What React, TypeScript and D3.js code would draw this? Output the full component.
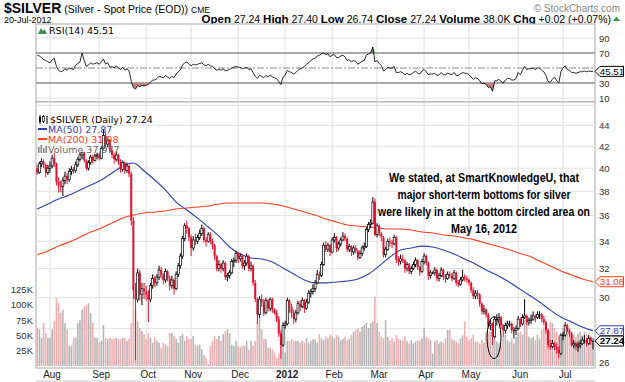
import React from "react";
import * as d3 from "d3";

const firstDay = "2011-07-22";
const lastDay = "2012-07-20";

const open = [
  40.0, 39.6, 40.4, 40.6, 40.3, 39.6,
  40.0, 40.2, 40.9, 40.4, 38.8, 38.5, 38.4, 38.9, 39.3, 39.0,
  39.7, 39.9, 39.8, 40.3, 40.8, 41.2, 41.4, 40.7, 40.0, 40.5,
  41.0, 40.7, 41.1, 41.2, 40.9, 41.8, 43.0, 42.2, 42.6, 41.6,
  41.2, 40.8, 41.2, 40.6, 39.9, 40.5, 39.8, 40.2, 39.5, 35.6,
  30.5, 29.9, 31.7, 30.2, 30.6, 30.4, 30.2, 29.9, 30.8, 31.3,
  31.0, 31.4, 31.9, 31.6, 31.2, 31.8, 31.3, 30.8, 31.2, 30.6,
  31.6, 32.2, 32.9, 34.2, 35.2, 35.0, 34.3, 33.5, 34.1, 34.0,
  34.3, 34.6, 35.0, 34.1, 34.0, 34.5, 34.0, 33.7, 32.9, 32.0,
  32.3, 32.0, 32.4, 31.4, 31.5, 31.7, 32.5, 32.6, 33.1, 32.7,
  32.9, 32.2, 32.4, 32.9, 32.0, 32.2, 31.0, 29.9, 28.9, 29.9,
  29.7, 29.0, 29.8, 29.3, 29.9, 29.2, 29.0, 28.6, 27.7, 27.0,
  28.2, 28.3, 29.8, 29.4, 29.0, 28.6, 29.0, 29.6, 29.4, 29.8,
  29.3, 29.7, 30.3, 30.4, 30.6, 31.0, 31.6, 31.5, 32.3, 33.7,
  33.4, 33.7, 33.2, 34.1, 34.3, 33.5, 33.8, 34.1, 34.4, 34.2,
  33.4, 33.6, 33.2, 33.5, 33.3, 32.8, 33.1, 33.5, 33.6, 34.9,
  35.3, 35.4, 37.1, 34.5, 35.2, 34.6, 34.3, 33.0, 33.4, 34.0,
  33.9, 33.8, 34.3, 32.6, 32.5, 32.7, 32.6, 32.0, 32.3, 31.8,
  32.0, 32.3, 32.6, 32.1, 31.8, 32.5, 32.9, 32.4, 31.5, 31.7,
  31.7, 31.9, 31.3, 31.5, 31.9, 31.4, 31.3, 31.6, 31.5, 31.3,
  31.7, 31.0, 30.9, 31.2, 31.4, 31.3, 31.2, 31.0, 30.5, 30.1,
  30.3, 30.2, 29.6, 29.1, 29.2, 28.9, 28.2, 28.3, 27.5, 28.6,
  28.6, 28.7, 28.2, 27.9, 28.2, 28.3, 28.3, 27.9, 27.9, 28.0,
  28.6, 28.3, 28.7, 28.8, 28.4, 28.5, 28.6, 28.8, 28.7, 28.9,
  28.9, 28.6, 28.4, 27.9, 27.0, 26.9, 27.1, 26.9, 26.7, 26.5,
  27.6, 27.6, 28.2, 27.9, 27.7, 27.0, 27.1, 26.9, 27.0, 27.1,
  27.3, 27.3, 27.1, 27.4, 27.24,
];

const high = [
  40.3, 40.6, 40.9, 40.8, 40.4, 40.3,
  40.6, 41.2, 41.4, 40.5, 39.2, 38.9, 39.2, 39.7, 39.6, 40.0,
  40.2, 40.1, 40.6, 41.0, 41.4, 41.5, 41.5, 40.8, 40.7, 41.2,
  41.2, 41.3, 41.4, 41.4, 42.0, 43.6, 43.3, 42.9, 42.7, 41.8,
  41.4, 41.5, 41.3, 40.8, 40.7, 40.6, 40.5, 40.3, 39.7, 35.9,
  31.0, 32.0, 31.9, 31.0, 31.0, 30.8, 30.5, 31.0, 31.6, 31.5,
  31.6, 32.2, 32.1, 31.7, 32.0, 31.9, 31.5, 31.5, 31.3, 31.8,
  32.4, 33.1, 34.4, 35.4, 35.6, 35.1, 34.5, 34.4, 34.6, 34.5,
  34.9, 35.3, 35.1, 34.3, 34.7, 34.7, 34.2, 33.8, 33.0, 32.6,
  32.4, 32.6, 32.5, 31.7, 31.9, 32.7, 32.8, 33.3, 33.2, 33.1,
  33.0, 32.6, 33.1, 33.0, 32.5, 32.3, 31.2, 30.0, 30.1, 30.2,
  29.9, 30.0, 29.9, 30.0, 30.0, 29.3, 29.2, 28.8, 27.9, 28.4,
  28.5, 30.0, 29.9, 29.6, 29.2, 29.2, 29.8, 29.8, 30.0, 29.9,
  29.9, 30.5, 30.6, 30.9, 31.2, 31.9, 31.8, 32.5, 33.9, 34.0,
  33.9, 33.8, 34.3, 34.6, 34.4, 34.0, 34.3, 34.7, 34.6, 34.3,
  33.8, 33.7, 33.7, 33.7, 33.4, 33.3, 33.7, 33.9, 35.1, 35.5,
  35.7, 37.5, 37.4, 35.4, 35.3, 34.7, 34.4, 33.6, 34.2, 34.3,
  34.1, 34.5, 34.4, 32.9, 33.0, 33.0, 32.7, 32.5, 32.4, 32.2,
  32.5, 32.8, 32.7, 32.2, 32.7, 33.1, 33.0, 32.5, 31.9, 31.8,
  32.1, 32.0, 31.7, 32.1, 32.0, 31.6, 31.8, 31.8, 31.7, 31.9,
  31.8, 31.2, 31.4, 31.9, 31.6, 31.5, 31.3, 31.1, 30.7, 30.5,
  30.5, 30.3, 29.7, 29.5, 29.3, 29.0, 28.6, 28.4, 28.8, 28.9,
  29.0, 28.8, 28.3, 28.4, 28.5, 28.5, 28.4, 28.1, 28.2, 28.8,
  28.7, 28.9, 29.9, 28.9, 28.7, 28.9, 29.1, 28.9, 29.1, 29.1,
  29.0, 28.8, 28.5, 28.0, 27.3, 27.3, 27.2, 27.1, 26.9, 27.7,
  27.8, 28.4, 28.3, 28.0, 27.8, 27.3, 27.2, 27.2, 27.3, 27.5,
  27.6, 27.4, 27.6, 27.5, 27.40,
];

const low = [
  39.4, 39.5, 40.1, 40.0, 39.2, 39.4,
  39.6, 40.0, 40.1, 38.5, 37.9, 37.9, 37.6, 38.6, 38.6, 38.8,
  39.4, 39.5, 39.6, 40.1, 40.6, 40.8, 40.5, 39.8, 39.8, 40.3,
  40.4, 40.6, 40.8, 40.7, 40.8, 41.7, 41.9, 41.9, 41.4, 40.9,
  40.4, 40.6, 40.3, 39.6, 39.7, 39.5, 39.6, 39.2, 35.2, 29.9,
  26.1, 29.7, 29.8, 29.5, 29.9, 29.8, 28.4, 29.7, 30.6, 30.7,
  30.8, 31.2, 31.3, 30.9, 31.0, 31.1, 30.5, 30.6, 30.2, 30.5,
  31.4, 32.0, 32.7, 34.0, 34.6, 34.0, 32.9, 33.3, 33.7, 33.8,
  34.1, 34.4, 33.9, 33.6, 33.9, 33.8, 33.4, 32.6, 31.8, 31.8,
  31.7, 31.8, 31.2, 31.1, 31.3, 31.6, 32.1, 32.4, 32.4, 32.5,
  32.0, 31.9, 32.2, 31.8, 31.8, 30.8, 29.7, 28.3, 28.7, 29.4,
  28.8, 28.9, 29.1, 29.1, 29.0, 28.9, 28.4, 27.5, 26.2, 26.9,
  28.0, 28.2, 29.0, 28.7, 28.3, 28.4, 28.9, 29.1, 29.3, 29.0,
  29.2, 29.6, 30.0, 30.2, 30.4, 30.9, 31.2, 31.4, 32.2, 33.2,
  33.2, 32.9, 33.1, 33.9, 33.2, 33.3, 33.6, 34.0, 34.0, 33.2,
  33.2, 32.9, 33.0, 33.1, 32.6, 32.7, 32.9, 33.3, 33.5, 34.7,
  35.0, 35.3, 34.4, 34.3, 34.4, 34.0, 32.8, 32.8, 33.3, 33.6,
  33.5, 33.7, 32.4, 32.2, 32.3, 32.4, 31.7, 31.8, 31.6, 31.6,
  31.9, 32.1, 31.9, 31.5, 31.7, 32.3, 32.2, 31.2, 31.3, 31.6,
  31.5, 31.1, 31.1, 31.4, 31.2, 31.0, 31.2, 31.3, 31.1, 31.2,
  30.8, 30.7, 30.8, 31.1, 31.1, 31.0, 30.8, 30.3, 29.9, 29.9,
  29.9, 29.4, 28.9, 28.9, 28.7, 28.0, 27.9, 27.0, 27.4, 28.2,
  28.4, 28.0, 27.5, 27.7, 28.0, 28.1, 27.7, 27.4, 27.6, 27.9,
  28.1, 28.2, 28.6, 28.2, 28.2, 28.3, 28.5, 28.4, 28.6, 28.6,
  28.4, 28.2, 27.7, 26.8, 26.7, 26.8, 26.7, 26.5, 26.2, 26.4,
  27.3, 27.5, 27.8, 27.5, 26.9, 26.8, 26.7, 26.6, 26.8, 27.0,
  27.1, 26.9, 27.0, 27.0, 26.74,
];

const close = [
  39.6, 40.4, 40.6, 40.3, 39.6, 40.0,
  40.2, 40.9, 40.4, 38.8, 38.5, 38.4, 38.9, 39.3, 39.0, 39.7,
  39.9, 39.8, 40.3, 40.8, 41.2, 41.4, 40.7, 40.0, 40.5, 41.0,
  40.7, 41.1, 41.2, 40.9, 41.8, 43.0, 42.2, 42.6, 41.6, 41.2,
  40.8, 41.2, 40.6, 39.9, 40.5, 39.8, 40.2, 39.5, 35.6, 30.5,
  29.9, 31.7, 30.2, 30.6, 30.4, 30.2, 29.9, 30.8, 31.3, 31.0,
  31.4, 31.9, 31.6, 31.2, 31.8, 31.3, 30.8, 31.2, 30.6, 31.6,
  32.2, 32.9, 34.2, 35.2, 35.0, 34.3, 33.5, 34.1, 34.0, 34.3,
  34.6, 35.0, 34.1, 34.0, 34.5, 34.0, 33.7, 32.9, 32.0, 32.3,
  32.0, 32.4, 31.4, 31.5, 31.7, 32.5, 32.6, 33.1, 32.7, 32.9,
  32.2, 32.4, 32.9, 32.0, 32.2, 31.0, 29.9, 28.9, 29.9, 29.7,
  29.0, 29.8, 29.3, 29.9, 29.2, 29.0, 28.6, 27.7, 27.0, 28.2,
  28.3, 29.8, 29.4, 29.0, 28.6, 29.0, 29.6, 29.4, 29.8, 29.3,
  29.7, 30.3, 30.4, 30.6, 31.0, 31.6, 31.5, 32.3, 33.7, 33.4,
  33.7, 33.2, 34.1, 34.3, 33.5, 33.8, 34.1, 34.4, 34.2, 33.4,
  33.6, 33.2, 33.5, 33.3, 32.8, 33.1, 33.5, 33.6, 34.9, 35.3,
  35.4, 37.1, 34.5, 35.2, 34.6, 34.3, 33.0, 33.4, 34.0, 33.9,
  33.8, 34.3, 32.6, 32.5, 32.7, 32.6, 32.0, 32.3, 31.8, 32.0,
  32.3, 32.6, 32.1, 31.8, 32.5, 32.9, 32.4, 31.5, 31.7, 31.7,
  31.9, 31.3, 31.5, 31.9, 31.4, 31.3, 31.6, 31.5, 31.3, 31.7,
  31.0, 30.9, 31.2, 31.4, 31.3, 31.2, 31.0, 30.5, 30.1, 30.3,
  30.2, 29.6, 29.1, 29.2, 28.9, 28.2, 28.3, 27.5, 28.6, 28.6,
  28.7, 28.2, 27.9, 28.2, 28.3, 28.3, 27.9, 27.9, 28.0, 28.6,
  28.3, 28.7, 28.8, 28.4, 28.5, 28.6, 28.8, 28.7, 28.9, 28.9,
  28.6, 28.4, 27.9, 27.0, 26.9, 27.1, 26.9, 26.7, 26.5, 27.6,
  27.6, 28.2, 27.9, 27.7, 27.0, 27.1, 26.9, 27.0, 27.1, 27.3,
  27.3, 27.1, 27.4, 27.22, 27.24,
];

// thousands
const volume = [
  62, 60, 46, 70, 54, 46,
  46, 60, 73, 111, 103, 87, 92, 70, 60, 33,
  33, 46, 46, 70, 75, 92, 97, 100, 103, 87,
  70, 46, 46, 38, 41, 67, 46, 44, 46, 44,
  44, 46, 44, 44, 46, 46, 41, 44, 70, 109,
  92, 73, 62, 57, 52, 44, 54, 46, 38, 46,
  41, 38, 30, 38, 35, 33, 54, 54, 49, 44,
  38, 49, 52, 41, 49, 44, 44, 49, 35, 33,
  35, 27, 18, 13, 3, 33, 41, 49, 44, 49,
  41, 52, 57, 60, 54, 35, 33, 41, 33, 30,
  33, 33, 41, 27, 41, 33, 41, 73, 82, 60,
  44, 44, 30, 30, 27, 22, 13, 20, 44, 35,
  22, 41, 41, 44, 41, 41, 41, 38, 41, 38,
  46, 38, 41, 44, 44, 38, 52, 45, 42, 48,
  45, 51, 48, 45, 51, 48, 42, 45, 48, 42,
  45, 51, 56, 59, 62, 56, 64, 67, 70, 62,
  70, 73, 113, 70, 56, 48, 45, 75, 48, 42,
  45, 40, 51, 45, 42, 42, 48, 40, 37, 42,
  37, 40, 42, 42, 45, 62, 48, 45, 42, 20,
  40, 42, 37, 40, 38, 45, 59, 60, 45, 42,
  40, 37, 45, 50, 73, 48, 42, 45, 51, 40,
  40, 37, 42, 38, 56, 53, 56, 42, 45, 40,
  37, 34, 48, 51, 42, 40, 45, 37, 48, 54,
  56, 51, 75, 70, 48, 45, 48, 42, 51, 45,
  59, 64, 62, 56, 72, 70, 62, 56, 50, 53,
  62, 67, 59, 56, 53, 51, 48, 53, 56, 50,
  56, 53, 51, 48, 37.977,
];

const rsi = [
  67, 66, 64, 61, 60, 58,
  57, 61, 63, 52, 47, 45, 46, 49, 47, 50,
  49, 48, 54, 56, 58, 70, 60, 52, 54, 57,
  55, 56, 57, 55, 58, 62, 55, 57, 51, 52,
  50, 53, 50, 48, 51, 47, 49, 46, 32, 24,
  22, 27, 25, 27, 26, 27, 28, 31, 34, 34,
  36, 39, 38, 37, 40, 38, 36, 39, 37, 42,
  45, 48, 54, 57, 58, 55, 53, 55, 54, 55,
  56, 57, 54, 53, 55, 53, 52, 49, 47, 48,
  47, 49, 46, 47, 48, 50, 51, 52, 51, 51,
  49, 50, 51, 48, 49, 44, 39, 36, 40, 39,
  37, 40, 38, 41, 38, 37, 36, 32, 28, 38,
  40, 47, 45, 44, 42, 44, 47, 49, 50, 52,
  55, 57, 60, 62, 63, 66, 67, 69, 70, 68,
  69, 65, 67, 68, 64, 64, 66, 67, 65, 60,
  61, 58, 60, 59, 55, 57, 59, 60, 67, 69,
  70, 78, 58, 60, 56, 53, 46, 48, 51, 50,
  50, 52, 44, 44, 45, 44, 41, 43, 41, 42,
  44, 46, 43, 42, 46, 48, 45, 41, 42, 42,
  43, 40, 41, 44, 41, 41, 43, 42, 41, 44,
  40, 40, 42, 44, 43, 43, 41, 38, 35, 37,
  36, 33, 29, 30, 28, 24, 25, 19, 33, 33,
  35, 32, 30, 34, 36, 36, 34, 34, 36, 44,
  41, 47, 52, 48, 49, 49, 50, 48, 50, 50,
  47, 45, 40, 32, 31, 35, 38, 33, 30, 45,
  50, 53, 48, 47, 44, 44, 43, 44, 45, 45,
  46, 45, 46, 45.4, 45.51,
];

// moving averages, one value every 5 bars
const maStep = 5;
const ma50 = [
  36.53, 36.94, 37.35, 37.68, 38.1, 38.53, 38.96, 39.57, 40.2, 40.46,
  39.75, 38.96, 38.1, 37.1, 36.45, 35.8, 35.1, 34.4, 33.57, 33.05,
  32.76, 32.69, 32.47, 32.04, 31.62, 31.2, 31.0, 31.0, 31.06, 31.13,
  31.27, 31.62, 32.18, 32.83, 33.35, 33.5, 33.64, 33.57, 33.35, 33.05,
  32.69, 32.33, 31.9, 31.55, 31.13, 30.65, 30.18, 29.71, 29.18, 28.73,
  28.42, 28.1, 27.87,
];
const ma200 = [
  33.0, 33.27, 33.64, 33.94, 34.32, 34.71, 35.02, 35.41, 35.81, 36.05,
  36.21, 36.29, 36.37, 36.53, 36.61, 36.69, 36.77, 36.94, 37.02, 37.02,
  37.02, 37.02, 36.94, 36.77, 36.53, 36.29, 36.05, 35.73, 35.49, 35.26,
  35.18, 35.1, 35.02, 34.94, 34.94, 34.87, 34.71, 34.63, 34.48, 34.4,
  34.25, 34.09, 33.86, 33.64, 33.42, 33.13, 32.9, 32.54, 32.18, 31.83,
  31.55, 31.27, 31.08,
];

const priceTicks = [26, 28, 30, 32, 34, 36, 38, 40, 42, 44, 46];
const volumeTicks = [25, 50, 75, 100, 125];
const rsiTicks = [10, 30, 50, 70, 90];
const monthLabels = ["Aug", "Sep", "Oct", "Nov", "Dec", "2012", "Feb", "Mar", "Apr", "May", "Jun", "Jul"];
const noteLines = [
  "We stated, at SmartKnowledgeU, that",
  "major short-term bottoms for silver",
  "were likely in at the bottom circled area on",
  "May 16, 2012",
];
const noteWidths = [190, 173, 212, 66];
const circledIndex = 213.7;
const circledRange = [26.2, 28.75];

const SANS = "'Liberation Sans', Arial, Helvetica, sans-serif";
const LEG = "'DejaVu Sans', Verdana, sans-serif";
const NARROW = "'Liberation Sans Narrow', 'Arial Narrow', 'Liberation Sans', Arial, sans-serif";
const RED = "#e3122f";
const BLUE = "#2f3fae";
const ORANGE = "#ff3d1f";

export default function App() {
  const parse = d3.utcParse("%Y-%m-%d");
  const dates = d3.utcDay
    .range(parse(firstDay) as Date, d3.utcDay.offset(parse(lastDay) as Date, 1))
    .filter((d) => d.getUTCDay() % 6 !== 0);
  const n = dates.length;

  const left = 36, right = 595;
  const rsiTop = 24, rsiBottom = 102, mainTop = 102, mainBottom = 368;

  const x = d3.scaleLinear().domain([0, n - 1]).range([37.2, 593]);
  const yP = d3.scaleLog().domain([26, 44]).range([362, 125.3]);
  const yV = d3.scaleLinear().domain([0, 125]).range([366, 289.5]);
  const yR = d3.scaleLinear().domain([0, 100]).range([105.5, 30.5]);

  const monthStarts = dates
    .map((d, i) => (i > 0 && d.getUTCMonth() !== dates[i - 1].getUTCMonth() ? i : -1))
    .filter((i) => i >= 0);

  const maLine = d3
    .line<number>()
    .x((_, k) => x(k * maStep))
    .y((v) => yP(v))
    .curve(d3.curveMonotoneX);

  const rsiLine = d3
    .line<number>()
    .x((_, i) => x(i))
    .y((v) => yR(v));
  const rsiHigh = d3
    .area<number>()
    .x((_, i) => x(i))
    .y0(yR(70))
    .y1((v) => yR(Math.max(v, 70)));
  const rsiLow = d3
    .area<number>()
    .x((_, i) => x(i))
    .y0(yR(30))
    .y1((v) => yR(Math.min(v, 30)));

  const lastClose = close[n - 1];
  const last50 = ma50[ma50.length - 1];
  const last200 = ma200[ma200.length - 1];
  const lastRsi = rsi[n - 1];
  const tagYs = [yP(lastClose), yP(last50), yP(last200)];

  const tag = (y: number, label: string, color: string, bold = false, key = "") => (
    <g key={key}>
      <path
        d={`M${right},${y} L${right + 5},${y - 5} L${623.5},${y - 5} L${623.5},${y + 5} L${right + 5},${y + 5} Z`}
        fill="#fff"
        stroke={color}
        strokeWidth={1}
      />
      <text x={612} y={y + 3.4} textAnchor="middle" fontFamily={SANS} fontSize={9.8} fontWeight={bold ? "bold" : "normal"} fill={color}>
        {label}
      </text>
    </g>
  );

  const isUp = (i: number) => (i === 0 ? close[i] >= open[i] : close[i] >= close[i - 1]);
  const cIdx = circledIndex;

  return (
    <svg width={625} height={382} style={{ position: "absolute", left: 0, top: 0, background: "#fff" }}>
      <rect x={0} y={0} width={625} height={382} fill="#fff" />

      {/* header */}
      <text x={4} y={12.5} fontFamily={SANS}>
        <tspan fontSize={14} fontWeight="bold">$SILVER</tspan>
        <tspan fontSize={10.5} dx={3}>(Silver - Spot Price (EOD))</tspan>
        <tspan fontSize={8.5} dx={3}>CME</tspan>
      </text>
      <text x={620} y={11.5} textAnchor="end" fontFamily={SANS} fontSize={10} fill="#888">© StockCharts.com</text>
      <text x={4} y={23} fontFamily={SANS} fontSize={9}>20-Jul-2012</text>
      <text x={611} y={23} textAnchor="end" fontFamily={SANS} fontSize={10.5}>
        <tspan fontWeight="bold" fontSize={11.5}>Open</tspan>
        <tspan> 27.24 </tspan>
        <tspan fontWeight="bold" fontSize={11.5}>High</tspan>
        <tspan> 27.40 </tspan>
        <tspan fontWeight="bold" fontSize={11.5}>Low</tspan>
        <tspan> 26.74 </tspan>
        <tspan fontWeight="bold" fontSize={11.5}>Close</tspan>
        <tspan> 27.24 </tspan>
        <tspan fontWeight="bold" fontSize={11.5}>Volume</tspan>
        <tspan> 38.0K </tspan>
        <tspan fontWeight="bold" fontSize={11.5}>Chg</tspan>
        <tspan> +0.02 (+0.07%)</tspan>
      </text>
      <path d="M613,21 L616.5,16.5 L620,21 Z" fill="#2e9e3e" />

      {/* RSI panel */}
      <rect x={left} y={rsiTop} width={right - left} height={rsiBottom - rsiTop} fill="#fff" stroke="#a8a8a8" strokeWidth={1} />
      {monthStarts.map((i) => (
        <line key={"rv" + i} x1={x(i)} x2={x(i)} y1={rsiTop} y2={rsiBottom} stroke="#dedede" strokeWidth={1} />
      ))}
      {[10, 90].map((v) => (
        <line key={"rg" + v} x1={left} x2={right} y1={yR(v)} y2={yR(v)} stroke="#dedede" strokeWidth={1} />
      ))}
      {[30, 70].map((v) => (
        <line key={"rh" + v} x1={left} x2={right} y1={yR(v)} y2={yR(v)} stroke="#8c8c8c" strokeWidth={1.3} />
      ))}
      <line x1={left} x2={right} y1={yR(50)} y2={yR(50)} stroke="#8c8c8c" strokeWidth={1} strokeDasharray="7,2,2,2" />
      <path d={rsiHigh(rsi) || ""} fill="#5d9c5d" />
      <path d={rsiLow(rsi) || ""} fill="#c98282" />
      <path d={rsiLine(rsi) || ""} fill="none" stroke="#111" strokeWidth={0.9} />
      <path d="M38,34 L41,28 L43,31 L44.5,29 L47,34 Z" fill="#3f8f4a" />
      <text x={49} y={34} fontFamily={LEG} fontSize={9.5} fill="#000">RSI(14) 45.51</text>
      {rsiTicks
        .filter((v) => Math.abs(yR(v) - yR(lastRsi)) > 7)
        .map((v) => (
          <text key={"rt" + v} x={599} y={yR(v) + 3.5} fontFamily={SANS} fontSize={9.5} fill="#333">{v}</text>
        ))}
      {tag(yR(lastRsi), lastRsi.toFixed(2), "#000", false, "rsitag")}

      {/* main panel */}
      <rect x={left} y={mainTop} width={right - left} height={mainBottom - mainTop} fill="#fff" stroke="#a8a8a8" strokeWidth={1} />
      {monthStarts.map((i) => (
        <line key={"mv" + i} x1={x(i)} x2={x(i)} y1={mainTop} y2={mainBottom} stroke="#dedede" strokeWidth={1} />
      ))}
      {priceTicks.map((v) => (
        <line key={"pg" + v} x1={left} x2={right} y1={yP(v)} y2={yP(v)} stroke="#e2e2e2" strokeWidth={1} />
      ))}

      {/* volume */}
      {volume.map((v, i) => (
        <rect
          key={"v" + i}
          x={x(i) - 0.8}
          y={yV(v)}
          width={1.6}
          height={yV(0) - yV(v)}
          fill={isUp(i) ? "#b5b5b5" : "#f2adb1"}
        />
      ))}

      {/* moving averages */}
      <path d={maLine(ma200) || ""} fill="none" stroke={ORANGE} strokeWidth={1.1} />
      <path d={maLine(ma50) || ""} fill="none" stroke={BLUE} strokeWidth={1.1} />

      {/* candles */}
      {close.map((c, i) => {
        const o = open[i];
        const col = isUp(i) ? "#000" : RED;
        const cx = x(i);
        const yTop = yP(Math.max(o, c));
        const yBot = yP(Math.min(o, c));
        const hollow = c > o;
        return (
          <g key={"c" + i}>
            <line x1={cx} x2={cx} y1={yP(high[i])} y2={yP(low[i])} stroke={col} strokeWidth={1} />
            <rect
              x={cx - 1}
              y={yTop}
              width={2}
              height={Math.max(1, yBot - yTop)}
              fill={hollow ? "#fff" : col}
              stroke={col}
              strokeWidth={hollow ? 0.7 : 0}
            />
          </g>
        );
      })}

      {/* circle annotation */}
      <ellipse
        cx={x(cIdx)}
        cy={(yP(circledRange[0]) + yP(circledRange[1])) / 2}
        rx={7}
        ry={(yP(circledRange[0]) - yP(circledRange[1])) / 2}
        fill="none"
        stroke="#000"
        strokeWidth={1}
      />

      {/* note */}
      {noteLines.map((t, k) => (
        <text
          key={"n" + k}
          x={484 - noteWidths[k] / 2}
          y={182 + k * 17}
          fontFamily={NARROW}
          fontWeight="bold"
          fontSize={12}
          textLength={noteWidths[k]}
          lengthAdjust="spacingAndGlyphs"
          fill="#000"
        >
          {t}
        </text>
      ))}

      {/* legends */}
      <g>
        <line x1={40} x2={40} y1={115} y2={124} stroke="#000" strokeWidth={1} />
        <rect x={39} y={117} width={2} height={5} fill="#000" />
        <line x1={43.5} x2={43.5} y1={115} y2={123} stroke="#000" strokeWidth={1} />
        <rect x={42.5} y={116.5} width={2} height={5} fill="#fff" stroke="#000" strokeWidth={0.7} />
        <line x1={47} x2={47} y1={116} y2={124} stroke="#000" strokeWidth={1} />
        <text x={50} y={123} fontFamily={LEG} fontSize={9.5} fill="#000">$SILVER (Daily) 27.24</text>
        <line x1={38} x2={47} y1={129} y2={129} stroke={BLUE} strokeWidth={2} />
        <text x={48} y={132.5} fontFamily={LEG} fontSize={9.5} fill={BLUE}>MA(50) 27.87</text>
        <line x1={38} x2={47} y1={139} y2={139} stroke={ORANGE} strokeWidth={2} />
        <text x={48} y={142.5} fontFamily={LEG} fontSize={9.5} fill={ORANGE}>MA(200) 31.08</text>
        <rect x={38} y={147} width={1.6} height={6} fill="#888" />
        <rect x={40.5} y={145} width={1.6} height={8} fill="#888" />
        <rect x={43} y={148} width={1.6} height={5} fill="#888" />
        <rect x={45.5} y={146} width={1.6} height={7} fill="#888" />
        <text x={48} y={152.5} fontFamily={LEG} fontSize={9.5} fill="#666">Volume 37,977</text>
      </g>

      {/* axes labels */}
      {priceTicks
        .filter((v) => yP(v) > mainTop + 10 && tagYs.every((ty) => Math.abs(yP(v) - ty) > 7))
        .map((v) => (
          <text key={"pt" + v} x={599} y={yP(v) + 3.5} fontFamily={SANS} fontSize={9.5} fill="#333">{v}</text>
        ))}
      {volumeTicks.map((v) => (
        <text key={"vt" + v} x={33} y={yV(v) + 3.5} textAnchor="end" fontFamily={SANS} fontSize={9.5} fill="#333">{v}K</text>
      ))}
      {monthStarts.map((i, k) => (
        <text
          key={"ml" + i}
          x={x(i) + 2}
          y={378}
          textAnchor="middle"
          fontFamily={SANS}
          fontSize={10}
          fontWeight={monthLabels[k] === "2012" ? "bold" : "normal"}
          fill="#222"
        >
          {monthLabels[k]}
        </text>
      ))}
      <line x1={left} x2={right} y1={381} y2={381} stroke="#cfcfcf" strokeWidth={1} />

      {tag(yP(last200), last200.toFixed(2), ORANGE, false, "t200")}
      {tag(yP(last50), last50.toFixed(2), BLUE, false, "t50")}
      {tag(yP(lastClose), lastClose.toFixed(2), "#000", true, "tc")}
    </svg>
  );
}
